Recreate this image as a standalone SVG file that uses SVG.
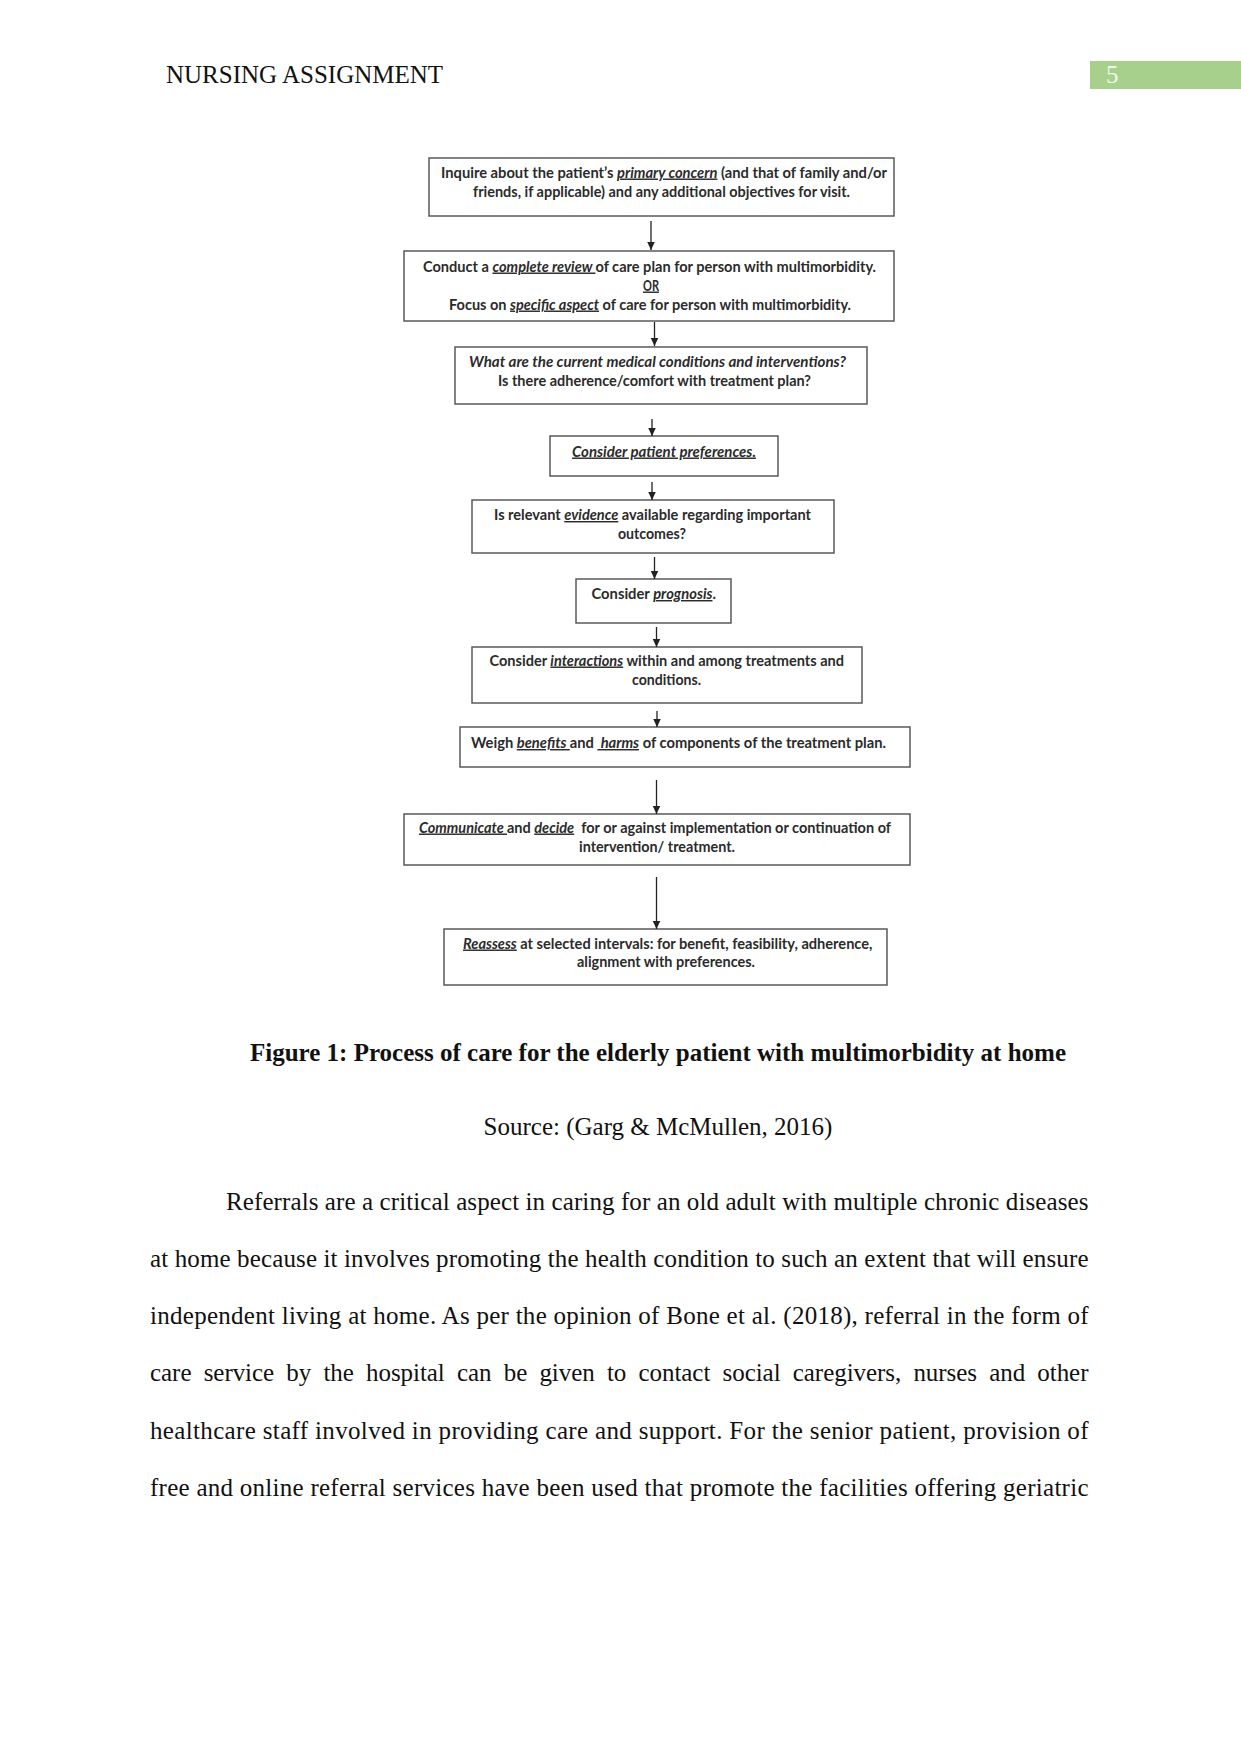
<svg xmlns="http://www.w3.org/2000/svg" width="1241" height="1754" viewBox="0 0 1241 1754">
<defs>
<style>
.box{fill:#fff;stroke:#5a5a5a;stroke-width:1.5}
.ft{font-family:Lato,"Liberation Sans",sans-serif;font-weight:bold;font-size:14.5px;fill:#2b2b2b}
.u{text-decoration:underline;font-style:italic}
.i{font-style:italic}
.ser{font-family:"Liberation Serif","Times New Roman",serif;font-size:25px;fill:#111}
.cap{font-weight:bold}
.con line{stroke:#222;stroke-width:1.3;fill:none}
</style>
<marker id="ah" markerUnits="userSpaceOnUse" markerWidth="9" markerHeight="9" viewBox="0 0 9 9" refX="8.5" refY="4.5" orient="auto">
<path d="M0,0.5 L8.5,4.5 L0,8.5 z" fill="#222"/>
</marker>
</defs>
<rect width="1241" height="1754" fill="#fff"/>

<g id="header">
<text class="ser" x="166" y="83.3">NURSING ASSIGNMENT</text>
<rect x="1090" y="61" width="151" height="28" fill="#a8d08d"/>
<text class="ser" x="1106" y="83" style="fill:#eef7e8">5</text>
</g>

<g id="n1">
<rect class="box" x="429" y="158" width="465" height="58"/>
<text class="ft" x="441" y="177.5" textLength="446" lengthAdjust="spacingAndGlyphs">Inquire about the patient’s <tspan class="u">primary concern</tspan> (and that of family and/or</text>
<text class="ft" x="473" y="196.5" textLength="377" lengthAdjust="spacingAndGlyphs">friends, if applicable) and any additional objectives for visit.</text>
</g>

<g id="n2">
<rect class="box" x="404" y="251" width="490" height="70"/>
<text class="ft" x="423" y="271.5" textLength="453" lengthAdjust="spacingAndGlyphs">Conduct a <tspan class="u">complete review&#160;</tspan>of care plan for person with multimorbidity.</text>
<text class="ft" x="643" y="290.5" textLength="16" lengthAdjust="spacingAndGlyphs" text-decoration="underline">OR</text>
<text class="ft" x="449" y="309.5" textLength="402" lengthAdjust="spacingAndGlyphs">Focus on <tspan class="u">specific aspect</tspan> of care for person with multimorbidity.</text>
</g>

<g id="n3">
<rect class="box" x="455" y="347" width="412" height="57"/>
<text class="ft i" x="469" y="367" textLength="377" lengthAdjust="spacingAndGlyphs">What are the current medical conditions and interventions?</text>
<text class="ft" x="498" y="386" textLength="313" lengthAdjust="spacingAndGlyphs">Is there adherence/comfort with treatment plan?</text>
</g>

<g id="n4">
<rect class="box" x="550" y="436" width="228" height="40"/>
<text class="ft u" x="572" y="456.5" textLength="184" lengthAdjust="spacingAndGlyphs">Consider patient preferences.</text>
</g>

<g id="n5">
<rect class="box" x="472" y="500" width="362" height="53"/>
<text class="ft" x="494" y="520" textLength="317" lengthAdjust="spacingAndGlyphs">Is relevant <tspan class="u">evidence</tspan> available regarding important</text>
<text class="ft" x="618" y="538.5" textLength="68" lengthAdjust="spacingAndGlyphs">outcomes?</text>
</g>

<g id="n6">
<rect class="box" x="576" y="579" width="155" height="44"/>
<text class="ft" x="591.5" y="599" textLength="124.5" lengthAdjust="spacingAndGlyphs">Consider <tspan class="u">prognosis</tspan>.</text>
</g>

<g id="n7">
<rect class="box" x="472" y="647" width="390" height="56"/>
<text class="ft" x="489.5" y="665.5" textLength="354.5" lengthAdjust="spacingAndGlyphs">Consider <tspan class="u">interactions</tspan> within and among treatments and</text>
<text class="ft" x="632" y="684.5" textLength="69" lengthAdjust="spacingAndGlyphs">conditions.</text>
</g>

<g id="n8">
<rect class="box" x="460" y="727" width="450" height="40"/>
<text class="ft" x="471" y="748" textLength="415" lengthAdjust="spacingAndGlyphs">Weigh <tspan class="u">benefits&#160;</tspan>and <tspan class="u">&#160;harms</tspan> of components of the treatment plan.</text>
</g>

<g id="n9">
<rect class="box" x="404" y="814" width="506" height="51"/>
<text class="ft" x="419" y="832.5" textLength="472" lengthAdjust="spacingAndGlyphs"><tspan class="u">Communicate&#160;</tspan>and <tspan class="u">decide</tspan>&#160; for or against implementation or continuation of</text>
<text class="ft" x="579" y="851.5" textLength="156" lengthAdjust="spacingAndGlyphs">intervention/ treatment.</text>
</g>

<g id="n10">
<rect class="box" x="444" y="929" width="443" height="56"/>
<text class="ft" x="463" y="948.5" textLength="409.5" lengthAdjust="spacingAndGlyphs"><tspan class="u">Reassess</tspan> at selected intervals: for benefit, feasibility, adherence,</text>
<text class="ft" x="577" y="967" textLength="178" lengthAdjust="spacingAndGlyphs">alignment with preferences.</text>
</g>

<g id="connectors" class="con">
<line x1="651" y1="221" x2="651" y2="250" marker-end="url(#ah)"/>
<line x1="654.5" y1="322" x2="654.5" y2="346" marker-end="url(#ah)"/>
<line x1="652" y1="419" x2="652" y2="436" marker-end="url(#ah)"/>
<line x1="652" y1="482" x2="652" y2="500" marker-end="url(#ah)"/>
<line x1="654.5" y1="557" x2="654.5" y2="579" marker-end="url(#ah)"/>
<line x1="656.5" y1="627" x2="656.5" y2="647" marker-end="url(#ah)"/>
<line x1="657" y1="711" x2="657" y2="727" marker-end="url(#ah)"/>
<line x1="656.5" y1="780" x2="656.5" y2="814" marker-end="url(#ah)"/>
<line x1="656.5" y1="877" x2="656.5" y2="929" marker-end="url(#ah)"/>
</g>

<g id="caption">
<text class="ser cap" x="658" y="1061" text-anchor="middle">Figure 1: Process of care for the elderly patient with multimorbidity at home</text>
<text class="ser" x="658" y="1135" text-anchor="middle">Source: (Garg &amp; McMullen, 2016)</text>
</g>

<g id="body">
<text class="ser" x="226" y="1209.5" textLength="862.5" lengthAdjust="spacing">Referrals are a critical aspect in caring for an old adult with multiple chronic diseases</text>
<text class="ser" x="150" y="1266.8" textLength="938.5" lengthAdjust="spacing">at home because it involves promoting the health condition to such an extent that will ensure</text>
<text class="ser" x="150" y="1324.1" textLength="938.5" lengthAdjust="spacing">independent living at home. As per the opinion of Bone et al. (2018), referral in the form of</text>
<text class="ser" x="150" y="1381.4" textLength="938.5" lengthAdjust="spacing" word-spacing="6">care service by the hospital can be given to contact social caregivers, nurses and other</text>
<text class="ser" x="150" y="1438.7" textLength="938.5" lengthAdjust="spacing">healthcare staff involved in providing care and support. For the senior patient, provision of</text>
<text class="ser" x="150" y="1496" textLength="938.5" lengthAdjust="spacing">free and online referral services have been used that promote the facilities offering geriatric</text>
</g>
</svg>
